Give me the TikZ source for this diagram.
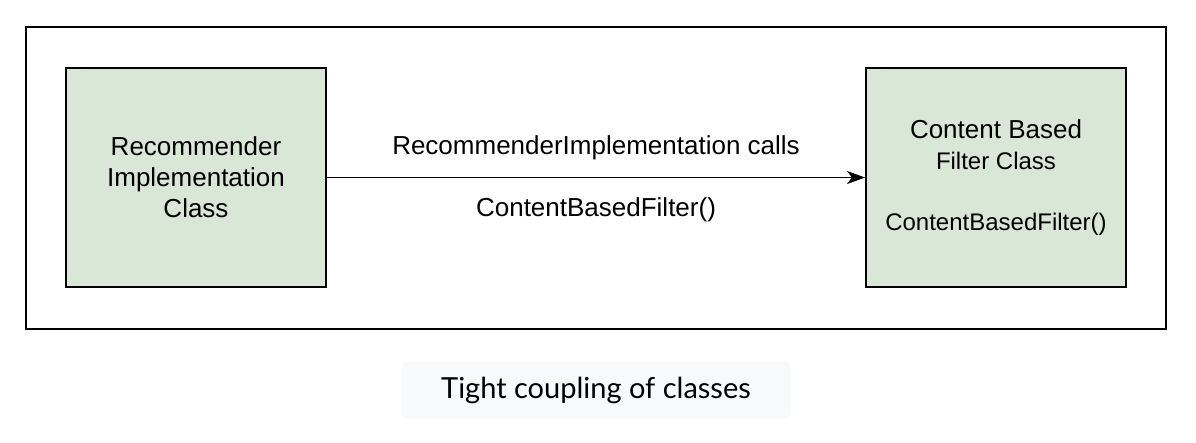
\documentclass[tikz,border=0pt]{standalone}
\usepackage{fontspec}
\setmainfont{Liberation Sans}
\newfontfamily\captionfont{Lato}
\usetikzlibrary{arrows.meta}
\definecolor{boxgreen}{HTML}{D9E7D6}
\definecolor{capgray}{HTML}{F8F9FB}
\tikzset{
	classbox/.style={draw=black, line width=2pt, fill=boxgreen, minimum width=260pt, minimum height=219pt, align=center, font=\fontsize{26}{31}\selectfont},
	calllabel/.style={font=\fontsize{26}{31}\selectfont},
}
\begin{document}
\begin{tikzpicture}[x=1pt, y=-1pt]
	\useasboundingbox (0,0) rectangle (1196,442);
	\node[draw=black, line width=2pt, minimum width=1140pt, minimum height=302pt] (frame) at (596,178) {};
	\node[classbox] (rec) at (196,177.5) {Recommender\\Implementation\\Class};
	\node[classbox] (cbf) at (996,177.5) {Content Based\\{\fontsize{24}{29}\selectfont Filter Class}\\[30pt]{\fontsize{24}{29}\selectfont ContentBasedFilter()}};
	\draw[line width=1.5pt, -{Stealth[length=18pt, width=13pt, inset=5pt]}] (rec.east) -- (cbf.west);
	\node[calllabel] (calls) at (596,148) {RecommenderImplementation calls};
	\node[calllabel] (callfn) at (596,210) {ContentBasedFilter()};
	\node[fill=capgray, rounded corners=6pt, minimum width=389pt, minimum height=57pt, font=\captionfont\fontsize{29}{35}\selectfont] (caption) at (596,390) {Tight coupling of classes};
\end{tikzpicture}
\end{document}
